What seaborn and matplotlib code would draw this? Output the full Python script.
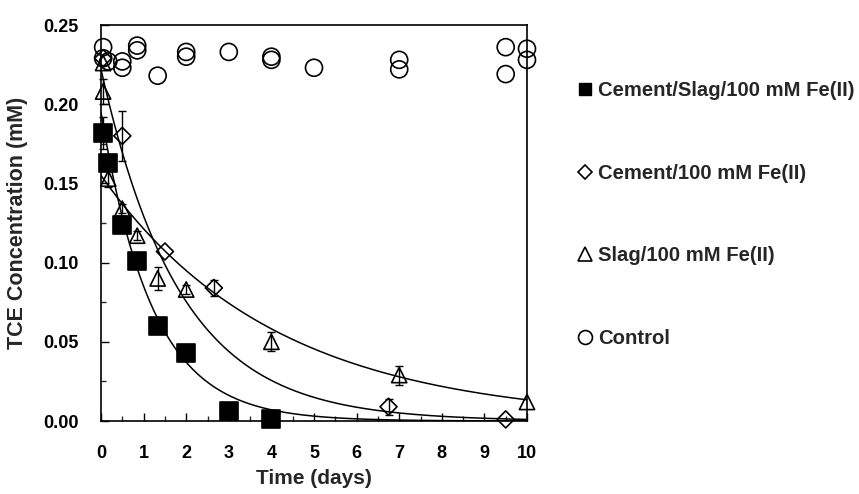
import numpy as np
import pandas as pd
import matplotlib
matplotlib.use("Agg")
import matplotlib.pyplot as plt
from matplotlib.lines import Line2D
from matplotlib.ticker import MultipleLocator, FormatStrFormatter
import seaborn as sns

# ---------------- data ----------------
series_names = ["Cement/Slag/100 mM Fe(II)", "Cement/100 mM Fe(II)",
                "Slag/100 mM Fe(II)", "Control"]

cs_t = [0.05, 0.17, 0.5, 0.85, 1.33, 2.0, 3.0, 4.0]
cs_y = [0.182, 0.163, 0.124, 0.101, 0.060, 0.043, 0.006, 0.001]
cs_err = [0.010, 0.000, 0.000, 0.000, 0.000, 0.005, 0.000, 0.000]

c_t = [0.05, 0.5, 1.5, 2.65, 6.75, 9.5]
c_y = [0.229, 0.180, 0.107, 0.084, 0.009, 0.001]
c_err = [0.000, 0.016, 0.000, 0.005, 0.005, 0.000]

s_t = [0.05, 0.05, 0.17, 0.5, 0.85, 1.33, 2.0, 4.0, 7.0, 10.0]
s_y = [0.226, 0.208, 0.153, 0.134, 0.117, 0.090, 0.083, 0.050, 0.029, 0.012]
s_err = [0.000, 0.008, 0.005, 0.003, 0.003, 0.007, 0.003, 0.006, 0.006, 0.000]

ctl_t = [0.05, 0.05, 0.17, 0.5, 0.5, 0.85, 0.85, 1.33, 2.0, 2.0,
         3.0, 4.0, 4.0, 5.0, 7.0, 7.0, 9.5, 9.5, 10.0, 10.0]
ctl_y = [0.236, 0.229, 0.227, 0.227, 0.223, 0.237, 0.234, 0.218, 0.233, 0.230,
         0.233, 0.230, 0.228, 0.223, 0.228, 0.222, 0.236, 0.219, 0.235, 0.228]

# first-order fit parameters (C0 in mM, k in 1/day) for the fitted curves
fit_names = ["Cement/Slag/100 mM Fe(II)", "Cement/100 mM Fe(II)", "Slag/100 mM Fe(II)"]
fit_c0 = [0.195, 0.222, 0.155]
fit_k = [0.83, 0.54, 0.245]

x_ticks = [0, 1, 2, 3, 4, 5, 6, 7, 8, 9, 10]
y_ticks = [0.00, 0.05, 0.10, 0.15, 0.20, 0.25]

# ---------------- style ----------------
sns.set_style("ticks")
plt.rcParams["font.family"] = ["Liberation Sans", "DejaVu Sans"]
plt.rcParams["font.weight"] = "bold"

W, H = 859, 494
fig = plt.figure(figsize=(W / 100, H / 100), dpi=100)
ax = fig.add_axes([101 / W, 1 - 421 / H, (527 - 101) / W, (421 - 25) / H])

# fitted curves
t_fit = np.linspace(0, 10, 300)
fit_rows = []
for name, c0, k in zip(fit_names, fit_c0, fit_k):
    for t in t_fit:
        fit_rows.append({"t": t, "y": c0 * np.exp(-k * t), "series": name})
fit_df = pd.DataFrame(fit_rows)
sns.lineplot(data=fit_df, x="t", y="y", units="series", estimator=None,
             color="black", lw=1.1, ax=ax, legend=False)

# error bars
for t, y, e in [(cs_t, cs_y, cs_err), (c_t, c_y, c_err), (s_t, s_y, s_err)]:
    tt = [a for a, b in zip(t, e) if b > 0]
    yy = [a for a, b in zip(y, e) if b > 0]
    ee = [b for b in e if b > 0]
    ax.errorbar(tt, yy, yerr=ee, fmt="none", ecolor="black", elinewidth=1.0,
                capsize=3, capthick=1.0, zorder=2, clip_on=False)

# markers
styles = {
    "Control": dict(marker="o", s=150, fc="none"),
    "Slag/100 mM Fe(II)": dict(marker="^", s=120, fc="none"),
    "Cement/100 mM Fe(II)": dict(marker="D", s=75, fc="none"),
    "Cement/Slag/100 mM Fe(II)": dict(marker="s", s=150, fc="black"),
}
data_sets = {
    "Cement/Slag/100 mM Fe(II)": (cs_t, cs_y),
    "Cement/100 mM Fe(II)": (c_t, c_y),
    "Slag/100 mM Fe(II)": (s_t, s_y),
    "Control": (ctl_t, ctl_y),
}
for name in ["Control", "Slag/100 mM Fe(II)", "Cement/100 mM Fe(II)", "Cement/Slag/100 mM Fe(II)"]:
    t, y = data_sets[name]
    st = styles[name]
    df = pd.DataFrame({"t": t, "y": y})
    sns.scatterplot(data=df, x="t", y="y", marker=st["marker"], s=st["s"],
                    facecolor=st["fc"], edgecolor="black", linewidth=1.2,
                    ax=ax, legend=False, zorder=3, clip_on=False)

# axes
ax.set_xlim(0, 10)
ax.set_ylim(0, 0.25)
ax.set_xticks(x_ticks)
ax.set_yticks(y_ticks)
ax.xaxis.set_minor_locator(MultipleLocator(0.5))
ax.yaxis.set_minor_locator(MultipleLocator(0.025))
ax.yaxis.set_major_formatter(FormatStrFormatter("%.2f"))
ax.tick_params(axis="both", which="major", direction="in", length=6, width=1.0,
               labelsize=13, pad=16, colors="black")
ax.tick_params(axis="both", which="minor", direction="in", length=3.5, width=1.0)
ax.tick_params(axis="x", which="major", pad=17)
for lab in ax.get_xticklabels() + ax.get_yticklabels():
    lab.set_fontweight("bold")
for sp in ax.spines.values():
    sp.set_visible(True)
    sp.set_color("black")
    sp.set_linewidth(1.2)

ax.set_xlabel("Time (days)", fontsize=15, fontweight="bold", labelpad=5)
ax.set_ylabel("TCE Concentration (mM)", fontsize=15.5, fontweight="bold", labelpad=11)
ax.grid(False)

# legend
handles = [
    Line2D([], [], ls="none", marker="s", ms=9, mfc="black", mec="black"),
    Line2D([], [], ls="none", marker="D", ms=7, mfc="none", mec="black", mew=1.2),
    Line2D([], [], ls="none", marker="^", ms=10, mfc="none", mec="black", mew=1.2),
    Line2D([], [], ls="none", marker="o", ms=10, mfc="none", mec="black", mew=1.2),
]
fig.legend(handles, series_names, loc="upper left",
           bbox_to_anchor=(577 / W, 1 - 81 / H), frameon=False,
           prop={"size": 14.6, "weight": "bold"}, labelspacing=3.14,
           handlelength=0.75, handletextpad=0.3, borderpad=0, borderaxespad=0)

fig.savefig("out.png", dpi=100)
